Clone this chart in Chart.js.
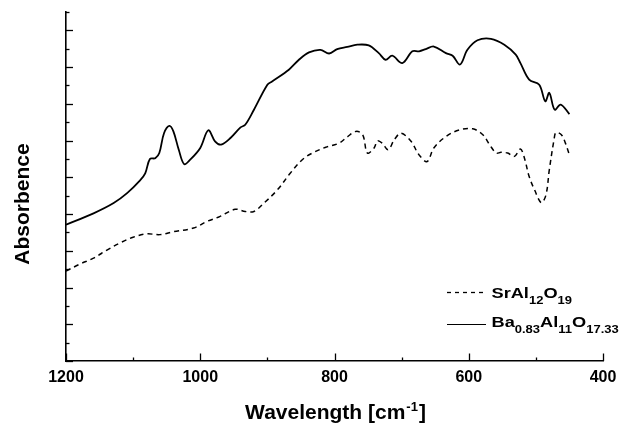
<!DOCTYPE html>
<html>
<head>
<meta charset="utf-8">
<script src="https://cdn.jsdelivr.net/npm/chart.js@4"></script>
<style>html,body{margin:0;padding:0;background:#fff;}canvas{display:block;}</style>
</head>
<body>
<canvas id="c" width="621" height="425"></canvas>
<script>
// Ba0.83Al11O17.33 (solid)
const baWave = [1200,1159,1129,1109,1090,1082,1075,1067,1061,1054,1046,1040,1032,1024,1015,1000,988,978,969,955,940,933,920,900,893,868,853,838,821,808,796,781,766,749,734,724,714,699,684,674,664,652,634,624,613,602,587,567,547,530,523,510,495,486,480,472,463,450];
const baAbs  = [3.71,4.02,4.30,4.57,4.91,5.11,5.50,5.52,5.66,6.20,6.40,6.25,5.75,5.36,5.48,5.80,6.28,5.98,5.89,6.07,6.36,6.43,6.84,7.52,7.61,7.93,8.20,8.40,8.47,8.37,8.49,8.55,8.61,8.59,8.38,8.20,8.31,8.11,8.43,8.43,8.49,8.56,8.38,8.31,8.07,8.47,8.73,8.77,8.61,8.34,8.11,7.66,7.52,7.07,7.30,6.84,6.98,6.72];
// SrAl12O19 (dashed)
const srWave = [1200,1179,1159,1139,1119,1100,1080,1060,1040,1010,990,971,948,933,920,905,885,866,848,833,813,793,781,768,758,751,741,736,729,720,711,701,686,674,662,652,634,614,594,579,569,559,552,542,532,523,517,510,502,492,485,480,473,470,462,456,450];
const srAbs  = [2.45,2.64,2.80,3.02,3.22,3.37,3.46,3.44,3.52,3.62,3.80,3.93,4.13,4.07,4.07,4.30,4.66,5.11,5.48,5.66,5.82,5.93,6.10,6.25,6.16,5.66,5.80,5.99,5.93,5.75,6.02,6.20,5.98,5.61,5.43,5.80,6.11,6.29,6.32,6.16,5.89,5.66,5.68,5.66,5.57,5.77,5.52,5.02,4.66,4.31,4.52,5.20,6.02,6.22,6.16,5.93,5.61];
const xTickValues = [1200,1000,800,600,400];
const xTickLabels = ['1200','1000','800','600','400'];
const xMinorValues = [1100,900,700,500];
const yMajorValues = [0,1,2,3,4,5,6,7,8,9];
const yMinorValues = [0.5,1.5,2.5,3.5,4.5,5.5,6.5,7.5,8.5,9.5];

const toPts = (w, a) => w.map((v, i) => ({x: v, y: a[i]}));

const decor = {
  id: 'decor',
  afterDraw(chart) {
    const ctx = chart.ctx;
    const xs = chart.scales.x, ys = chart.scales.y;
    const ca = chart.chartArea;
    ctx.save();
    ctx.strokeStyle = '#000';
    ctx.lineWidth = 1.3;
    yMajorValues.forEach(v => { const y = Math.round(ys.getPixelForValue(v)) + 0.5; ctx.beginPath(); ctx.moveTo(ca.left, y); ctx.lineTo(ca.left + 7, y); ctx.stroke(); });
    yMinorValues.forEach(v => { const y = Math.round(ys.getPixelForValue(v)) + 0.5; ctx.beginPath(); ctx.moveTo(ca.left, y); ctx.lineTo(ca.left + 3.5, y); ctx.stroke(); });
    xTickValues.forEach(v => { const x = Math.round(xs.getPixelForValue(v)) + 0.5; ctx.beginPath(); ctx.moveTo(x, ca.bottom); ctx.lineTo(x, ca.bottom - 7.5); ctx.stroke(); });
    xMinorValues.forEach(v => { const x = Math.round(xs.getPixelForValue(v)) + 0.5; ctx.beginPath(); ctx.moveTo(x, ca.bottom); ctx.lineTo(x, ca.bottom - 3.5); ctx.stroke(); });
    ctx.fillStyle = '#000';
    ctx.font = 'bold 16px "Liberation Sans", Arial, sans-serif';
    ctx.textAlign = 'center';
    ctx.textBaseline = 'alphabetic';
    xTickValues.forEach((v, i) => ctx.fillText(xTickLabels[i], xs.getPixelForValue(v), 382));
    const cx = (ca.left + ca.right) / 2;
    const main = 'Wavelength [cm', sup = '-1', end = ']';
    const fMain = 'bold 21px "Liberation Sans", Arial, sans-serif';
    const fSup = 'bold 13px "Liberation Sans", Arial, sans-serif';
    ctx.font = fMain; const w1 = ctx.measureText(main).width, w3 = ctx.measureText(end).width;
    ctx.font = fSup; const w2 = ctx.measureText(sup).width;
    let x0 = cx - (w1 + w2 + w3) / 2;
    ctx.textAlign = 'left';
    ctx.font = fMain; ctx.fillText(main, x0, 419);
    ctx.font = fSup; ctx.fillText(sup, x0 + w1 + 1, 411);
    ctx.font = fMain; ctx.fillText(end, x0 + w1 + w2 + 2, 419);
    ctx.save();
    ctx.translate(28.5, 204);
    ctx.rotate(-Math.PI / 2);
    ctx.textAlign = 'center';
    ctx.font = 'bold 21px "Liberation Sans", Arial, sans-serif';
    ctx.fillText('Absorbence', 0, 0);
    ctx.restore();
    const drawRich = (parts, x, y) => {
      ctx.save();
      ctx.translate(x, y);
      ctx.scale(1.3, 1);
      let px = 0;
      parts.forEach(([t, sub]) => {
        ctx.font = sub ? 'bold 10px "Liberation Sans", Arial, sans-serif' : 'bold 14px "Liberation Sans", Arial, sans-serif';
        ctx.fillText(t, px, sub ? 6 : 0);
        px += ctx.measureText(t).width;
      });
      ctx.restore();
    };
    ctx.textAlign = 'left';
    ctx.lineWidth = 1.3;
    ctx.setLineDash([4, 4]);
    ctx.beginPath(); ctx.moveTo(447, 292.5); ctx.lineTo(486, 292.5); ctx.stroke();
    ctx.setLineDash([]);
    ctx.lineWidth = 1.2;
    ctx.beginPath(); ctx.moveTo(447, 324.5); ctx.lineTo(486, 324.5); ctx.stroke();
    drawRich([['SrAl', 0], ['12', 1], ['O', 0], ['19', 1]], 491.5, 297.5);
    drawRich([['Ba', 0], ['0.83', 1], ['Al', 0], ['11', 1], ['O', 0], ['17.33', 1]], 491.5, 326.5);
    ctx.restore();
  }
};

new Chart(document.getElementById('c'), {
  type: 'line',
  data: {
    datasets: [
      { label: 'SrAl12O19', data: toPts(srWave, srAbs), borderColor: '#000', borderWidth: 1.5, borderDash: [5, 4], pointRadius: 0, tension: 0.35, fill: false },
      { label: 'Ba0.83Al11O17.33', data: toPts(baWave, baAbs), borderColor: '#000', borderWidth: 1.8, pointRadius: 0, tension: 0.35, fill: false }
    ]
  },
  options: {
    responsive: false,
    animation: false,
    devicePixelRatio: 1,
    layout: { padding: { left: 66, right: 18, top: 12, bottom: 64 } },
    plugins: { legend: { display: false }, tooltip: { enabled: false } },
    scales: {
      x: {
        type: 'linear', min: 400, max: 1200, reverse: true,
        ticks: { display: false },
        grid: { display: false, drawTicks: false },
        border: { display: true, color: '#000', width: 1.6 },
        afterFit: s => { s.height = 0; }
      },
      y: {
        type: 'linear', min: 0, max: 9.5,
        ticks: { display: false },
        grid: { display: false, drawTicks: false },
        border: { display: true, color: '#000', width: 1.6 },
        afterFit: s => { s.width = 0; }
      }
    }
  },
  plugins: [decor]
});
</script>
</body>
</html>
